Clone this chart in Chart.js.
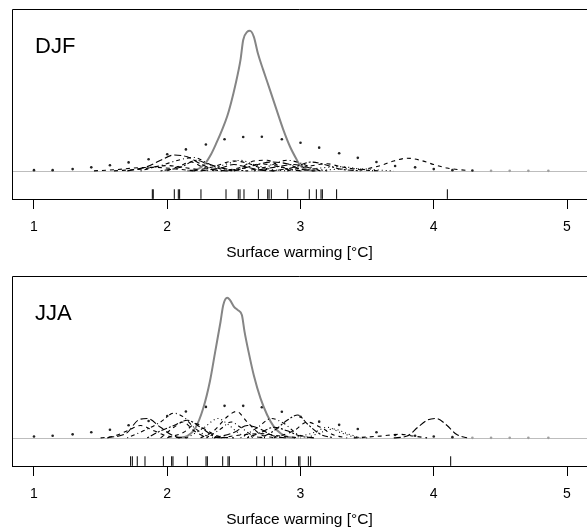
<!DOCTYPE html>
<html>
<head>
<meta charset="utf-8">
<script src="https://cdn.jsdelivr.net/npm/chart.js@4.4.1/dist/chart.umd.min.js"></script>
<style>
  html, body { margin: 0; padding: 0; background: #fff; }
  #wrap { position: relative; width: 587px; height: 529px; overflow: hidden; }
  .panel { position: absolute; left: 0; width: 587px; height: 262px; }
</style>
</head>
<body>
<div id="wrap">
  <div class="panel" style="top:0"><canvas id="djfChart" width="587" height="262"></canvas></div>
  <div class="panel" style="top:267px"><canvas id="jjaChart" width="587" height="262"></canvas></div>
</div>
<script>
// axis
const xTickValues = [1, 2, 3, 4, 5];

// multi-model combined density (grey curve)
const djfEnsX = [2.15, 2.22, 2.28, 2.33, 2.37, 2.41, 2.45, 2.48, 2.51, 2.55, 2.57, 2.60, 2.62, 2.65, 2.68, 2.72, 2.77, 2.82, 2.87, 2.92, 2.97, 3.00, 3.05, 3.12];
const djfEnsY = [0, 0.03, 0.19, 0.48, 0.80, 1.15, 1.55, 1.95, 2.42, 3.16, 3.72, 3.95, 3.98, 3.81, 3.34, 2.87, 2.31, 1.74, 1.18, 0.70, 0.33, 0.14, 0.03, 0];
const jjaEnsX = [2.08, 2.15, 2.21, 2.27, 2.32, 2.36, 2.40, 2.42, 2.45, 2.47, 2.50, 2.53, 2.56, 2.58, 2.61, 2.65, 2.70, 2.75, 2.80, 2.85, 2.90, 2.96];
const jjaEnsY = [0, 0.05, 0.27, 0.84, 1.60, 2.45, 3.30, 3.77, 3.98, 3.92, 3.73, 3.63, 3.49, 3.02, 2.45, 1.77, 1.12, 0.65, 0.32, 0.13, 0.03, 0];

// broad dotted density
const dotX = [1.00, 1.14, 1.29, 1.43, 1.57, 1.71, 1.86, 2.00, 2.14, 2.29, 2.43, 2.57, 2.71, 2.86, 3.00, 3.14, 3.29, 3.43, 3.57, 3.71, 3.86, 4.00, 4.14, 4.29, 4.43, 4.57, 4.71, 4.86];
const djfDotY = [0.02, 0.02, 0.05, 0.10, 0.16, 0.24, 0.33, 0.47, 0.61, 0.75, 0.90, 0.96, 0.97, 0.90, 0.80, 0.66, 0.50, 0.37, 0.25, 0.14, 0.10, 0.05, 0.02, 0.01, 0, 0, 0, 0];
const jjaDotY = [0.04, 0.06, 0.10, 0.16, 0.23, 0.36, 0.48, 0.62, 0.75, 0.88, 0.91, 0.91, 0.87, 0.74, 0.60, 0.46, 0.37, 0.25, 0.16, 0.08, 0.06, 0.04, 0.02, 0, 0, 0, 0, 0];

// single model densities (dashed), [x, density]
const djfModels = [
  [[1.45, 0], [1.6, 0.03], [1.75, 0.08], [1.9, 0.1], [2.05, 0.06], [2.2, 0]],
  [[1.7, 0], [1.85, 0.12], [1.95, 0.3], [2.05, 0.45], [2.15, 0.4], [2.25, 0.2], [2.35, 0.03], [2.45, 0]],
  [[1.8, 0], [1.95, 0.15], [2.1, 0.32], [2.2, 0.38], [2.3, 0.22], [2.4, 0.05], [2.5, 0]],
  [[1.95, 0], [2.1, 0.1], [2.22, 0.3], [2.3, 0.2], [2.45, 0.05], [2.6, 0]],
  [[2.2, 0], [2.35, 0.12], [2.5, 0.28], [2.6, 0.22], [2.7, 0.08], [2.8, 0]],
  [[2.3, 0], [2.45, 0.2], [2.55, 0.3], [2.65, 0.18], [2.8, 0.03], [2.9, 0]],
  [[2.4, 0], [2.55, 0.1], [2.65, 0.28], [2.75, 0.3], [2.85, 0.12], [3.0, 0]],
  [[2.5, 0], [2.65, 0.15], [2.78, 0.25], [2.9, 0.2], [3.0, 0.05], [3.1, 0]],
  [[2.6, 0], [2.75, 0.12], [2.9, 0.3], [3.0, 0.22], [3.1, 0.07], [3.2, 0]],
  [[2.8, 0], [2.95, 0.1], [3.08, 0.25], [3.18, 0.18], [3.3, 0.05], [3.45, 0]],
  [[2.9, 0], [3.05, 0.12], [3.2, 0.2], [3.3, 0.12], [3.45, 0.03], [3.6, 0]],
  [[3.1, 0], [3.3, 0.05], [3.45, 0.06], [3.6, 0.02], [3.7, 0]],
  [[3.45, 0.02], [3.6, 0.15], [3.7, 0.28], [3.8, 0.36], [3.9, 0.3], [4.0, 0.18], [4.1, 0.08], [4.25, 0.01]],
  [[2.25, 0], [2.4, 0.08], [2.5, 0.18], [2.58, 0.12], [2.7, 0.02], [2.8, 0]],
  [[2.45, 0], [2.6, 0.1], [2.7, 0.2], [2.8, 0.15], [2.92, 0.03], [3.0, 0]],
  [[2.65, 0], [2.8, 0.1], [2.95, 0.18], [3.05, 0.1], [3.15, 0]],
  [[2.0, 0], [2.1, 0.15], [2.18, 0.25], [2.26, 0.12], [2.35, 0]],
  [[3.0, 0], [3.15, 0.08], [3.3, 0.12], [3.45, 0.05], [3.55, 0]],
  [[1.6, 0], [1.8, 0.05], [2.0, 0.15], [2.15, 0.08], [2.3, 0]]
];
const jjaModels = [
  [[1.5, 0], [1.6, 0.05], [1.7, 0.2], [1.8, 0.35], [1.9, 0.2], [2.0, 0.05], [2.1, 0]],
  [[1.55, 0], [1.7, 0.15], [1.78, 0.5], [1.85, 0.55], [1.95, 0.3], [2.05, 0.05], [2.15, 0]],
  [[1.7, 0], [1.85, 0.25], [1.95, 0.45], [2.05, 0.7], [2.12, 0.6], [2.2, 0.3], [2.3, 0.05], [2.4, 0]],
  [[1.85, 0], [1.95, 0.2], [2.05, 0.35], [2.15, 0.5], [2.25, 0.3], [2.35, 0.05], [2.45, 0]],
  [[2.0, 0], [2.12, 0.15], [2.22, 0.4], [2.28, 0.25], [2.38, 0.05], [2.5, 0]],
  [[2.15, 0], [2.28, 0.3], [2.38, 0.55], [2.45, 0.4], [2.55, 0.1], [2.65, 0]],
  [[2.25, 0], [2.35, 0.2], [2.45, 0.6], [2.52, 0.75], [2.6, 0.45], [2.7, 0.1], [2.8, 0]],
  [[2.35, 0], [2.5, 0.15], [2.6, 0.35], [2.7, 0.25], [2.8, 0.05], [2.9, 0]],
  [[2.55, 0], [2.68, 0.3], [2.78, 0.55], [2.88, 0.4], [2.98, 0.1], [3.1, 0]],
  [[2.7, 0], [2.8, 0.2], [2.9, 0.5], [2.98, 0.65], [3.05, 0.4], [3.15, 0.1], [3.25, 0]],
  [[2.8, 0], [2.95, 0.2], [3.05, 0.45], [3.15, 0.3], [3.25, 0.08], [3.35, 0]],
  [[2.95, 0], [3.1, 0.15], [3.2, 0.3], [3.3, 0.15], [3.4, 0.03], [3.5, 0]],
  [[3.4, 0], [3.6, 0.05], [3.75, 0.1], [3.85, 0.05], [3.95, 0]],
  [[3.7, 0], [3.8, 0.05], [3.88, 0.3], [3.95, 0.5], [4.02, 0.55], [4.1, 0.35], [4.17, 0.1], [4.25, 0]],
  [[2.3, 0], [2.4, 0.25], [2.48, 0.45], [2.55, 0.3], [2.65, 0.05], [2.75, 0]],
  [[2.6, 0], [2.7, 0.15], [2.8, 0.3], [2.9, 0.2], [3.0, 0.05], [3.1, 0]],
  [[1.95, 0], [2.05, 0.3], [2.12, 0.45], [2.2, 0.2], [2.3, 0]],
  [[3.05, 0], [3.15, 0.15], [3.25, 0.25], [3.35, 0.12], [3.45, 0]],
  [[2.4, 0], [2.55, 0.08], [2.7, 0.12], [2.85, 0.05], [3.0, 0]]
];

// rug of model mean warming
const djfRug = [1.888, 1.895, 2.053, 2.083, 2.093, 2.253, 2.441, 2.533, 2.546, 2.576, 2.684, 2.754, 2.764, 2.781, 2.904, 3.066, 3.119, 3.154, 3.164, 3.271, 4.102];
const jjaRug = [1.725, 1.738, 1.775, 1.833, 1.971, 2.033, 2.043, 2.151, 2.291, 2.301, 2.416, 2.456, 2.466, 2.671, 2.729, 2.789, 2.889, 2.986, 2.996, 3.059, 3.076, 4.127];

const FONT = '"Liberation Sans", Arial, Helvetica, sans-serif';
const dashes = [[4, 4], [7, 3], [1, 3, 4, 3], [2, 2, 6, 2], [4, 4], [1, 3]];

// box (left + top), zero line and panel label
const framePlugin = {
  id: 'frame',
  beforeDatasetsDraw(chart) {
    const { ctx, chartArea: a, scales } = chart;
    const y0 = Math.round(scales.y.getPixelForValue(0)) + 0.5;
    ctx.save();
    ctx.strokeStyle = '#bdbdbd';
    ctx.lineWidth = 1;
    ctx.beginPath();
    ctx.moveTo(a.left, y0);
    ctx.lineTo(chart.width, y0);
    ctx.stroke();
    ctx.restore();
  },
  afterDraw(chart, args, opts) {
    const { ctx, chartArea: a } = chart;
    ctx.save();
    ctx.strokeStyle = '#000';
    ctx.lineWidth = 1;
    ctx.beginPath();
    ctx.moveTo(a.left + 0.5, a.bottom);
    ctx.lineTo(a.left + 0.5, a.top + 0.5);
    ctx.lineTo(chart.width, a.top + 0.5);
    ctx.stroke();
    ctx.fillStyle = '#000';
    ctx.font = '22px ' + FONT;
    ctx.textBaseline = 'alphabetic';
    ctx.fillText(opts.label, a.left + 23, a.top + 44);
    ctx.restore();
  }
};

function makePanel(id, label, ensX, ensY, models, dotY, rug) {
  const datasets = [];

  models.forEach((m, i) => {
    datasets.push({
      type: 'line',
      data: m.map(p => ({ x: p[0], y: p[1] })),
      borderColor: '#000',
      borderWidth: 1.1,
      borderDash: dashes[i % dashes.length],
      pointRadius: 0,
      cubicInterpolationMode: 'monotone',
      fill: false
    });
  });

  datasets.push({
    type: 'line',
    data: ensX.map((x, i) => ({ x: x, y: ensY[i] })),
    borderColor: '#858585',
    borderWidth: 2,
    pointRadius: 0,
    cubicInterpolationMode: 'monotone',
    fill: false
  });

  datasets.push({
    type: 'scatter',
    data: dotX.map((x, i) => ({ x: x, y: dotY[i] })),
    pointRadius: 1.3,
    borderWidth: 0,
    backgroundColor: ctx => (ctx.raw && ctx.raw.y < 0.005 ? '#a0a0a0' : '#222')
  });

  datasets.push({
    type: 'scatter',
    data: rug.map(x => ({ x: x, y: -0.66 })),
    pointStyle: 'line',
    rotation: 90,
    pointRadius: 4.8,
    borderColor: '#000',
    borderWidth: 1
  });

  return new Chart(document.getElementById(id), {
    data: { datasets: datasets },
    plugins: [framePlugin],
    options: {
      responsive: false,
      animation: false,
      events: [],
      layout: { autoPadding: false, padding: { top: 9, left: 12, right: 0, bottom: 0 } },
      plugins: {
        legend: { display: false },
        tooltip: { enabled: false },
        frame: { label: label }
      },
      scales: {
        x: {
          type: 'linear',
          min: 0.835,
          max: 5.15,
          afterBuildTicks: s => { s.ticks = xTickValues.map(v => ({ value: v })); },
          afterFit: s => { s.height = 63; s.paddingLeft = 0; s.paddingRight = 0; },
          grid: {
            display: true,
            drawOnChartArea: false,
            drawTicks: true,
            tickLength: 10,
            color: '#000',
            lineWidth: 1
          },
          border: { display: true, color: '#000', width: 1 },
          ticks: {
            color: '#000',
            font: { family: FONT, size: 14 },
            padding: 10,
            maxRotation: 0
          },
          title: {
            display: true,
            text: 'Surface warming [°C]',
            color: '#000',
            font: { family: FONT, size: 15.5 },
            padding: { top: 0, bottom: 0 }
          }
        },
        y: {
          type: 'linear',
          display: false,
          min: -0.8,
          max: 4.6
        }
      }
    }
  });
}

makePanel('djfChart', 'DJF', djfEnsX, djfEnsY, djfModels, djfDotY, djfRug);
makePanel('jjaChart', 'JJA', jjaEnsX, jjaEnsY, jjaModels, jjaDotY, jjaRug);
</script>
</body>
</html>
